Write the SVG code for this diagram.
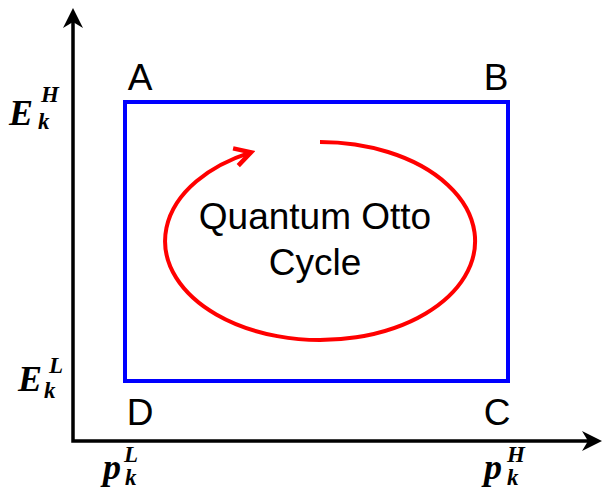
<svg xmlns="http://www.w3.org/2000/svg" width="603" height="491" viewBox="0 0 603 491">
<style>
.lbl{font-family:"Liberation Sans",Arial,sans-serif;font-size:37px;fill:#000}
.math{font-family:"Liberation Serif","Times New Roman",serif;font-weight:bold;font-style:italic;fill:#000}
.big{font-size:36px}
.sm{font-size:23px}
</style>
<defs>
<marker id="axhead" markerUnits="userSpaceOnUse" viewBox="-24 -12 26 24" refX="-8" refY="0" markerWidth="26" markerHeight="24" orient="auto-start-reverse">
<path d="M0,0 L-20,-10 L-14,0 L-20,10 Z" fill="#000"/>
</marker>
<marker id="redhead" markerUnits="userSpaceOnUse" viewBox="-20 -14 24 28" refX="0" refY="0" markerWidth="24" markerHeight="28" orient="auto">
<path d="M-16,-9 L0,0 L-16,9" fill="none" stroke="#f00" stroke-width="4.5" stroke-linejoin="miter"/>
</marker>
</defs>
<g id="connectors">
<path id="axes" d="M73,16 V441 H594" fill="none" stroke="#000" stroke-width="3.5" marker-start="url(#axhead)" marker-end="url(#axhead)"/>
<path id="cycle-arrow" d="M320,142 A155,99 0 1 1 250,152.7" fill="none" stroke="#f00" stroke-width="4"/>
<path d="M250,152.7 l1,-0.3" fill="none" stroke="none" marker-end="url(#redhead)"/>
</g>
<g id="cycle-box">
<rect x="125" y="102" width="383" height="279" fill="none" stroke="#00f" stroke-width="4"/>
</g>
<g id="node-A"><text class="lbl" x="140" y="90" text-anchor="middle">A</text></g>
<g id="node-B"><text class="lbl" x="496" y="90" text-anchor="middle">B</text></g>
<g id="node-C"><text class="lbl" x="497" y="425" text-anchor="middle">C</text></g>
<g id="node-D"><text class="lbl" x="140" y="425" text-anchor="middle">D</text></g>
<g id="title"><text class="lbl" x="315" y="229" text-anchor="middle">Quantum Otto</text><text class="lbl" x="315" y="275" text-anchor="middle">Cycle</text></g>
<g id="label-EH"><text class="math big" x="9" y="125">E</text><text class="math sm" x="41" y="102">H</text><text class="math sm" x="38" y="129">k</text></g>
<g id="label-EL"><text class="math big" x="18" y="391">E</text><text class="math sm" x="49" y="373">L</text><text class="math sm" x="44" y="398">k</text></g>
<g id="label-pL"><text class="math big" x="103" y="479">p</text><text class="math sm" x="124" y="462">L</text><text class="math sm" x="125" y="485">k</text></g>
<g id="label-pH"><text class="math big" x="484" y="479">p</text><text class="math sm" x="507" y="462">H</text><text class="math sm" x="507" y="485">k</text></g>
</svg>
